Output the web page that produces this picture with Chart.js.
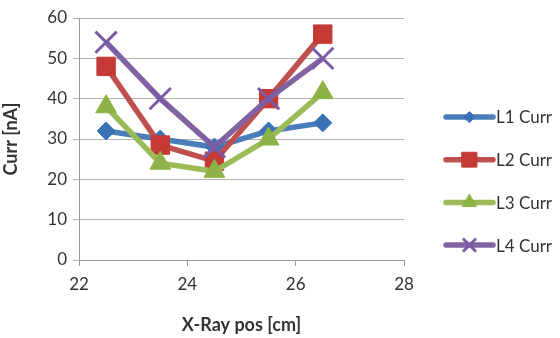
<!DOCTYPE html>
<html>
<head>
<meta charset="utf-8">
<script src="https://cdn.jsdelivr.net/npm/chart.js@4/dist/chart.umd.min.js"></script>
<style>
    body { margin: 0; background: #fff; }
    #wrap { width: 560px; height: 338px; position: relative; }
</style>
</head>
<body>
<div id="wrap"><canvas id="canvas"></canvas></div>
<script>
const xPos = [22.5, 23.5, 24.5, 25.5, 26.5];
const seriesNames = ['L1 Curr', 'L2 Curr', 'L3 Curr', 'L4 Curr'];
const l1Curr = [32, 30, 28, 32, 34];
const l2Curr = [48, 28.5, 24.5, 40, 56];
const l3Curr = [38, 24, 22, 30, 41.5];
const l4Curr = [54, 40, 28, 40, 50];
const xTicks = [22, 24, 26, 28];
const yTicks = [0, 10, 20, 30, 40, 50, 60];

const textColor = '#333333';
const fontFamily = 'Lato, "Open Sans", sans-serif';

const styles = [
    {line: '#4a7ebb', mark: '#3a72b6', point: 'rectRot', radius: 9, legendRadius: 5.5, border: 1},
    {line: '#c0504d', mark: '#c53a35', point: 'rect', radius: 13, legendRadius: 10.5, border: 1},
    {line: '#9bbb59', mark: '#8db246', point: 'triangle', radius: 12, legendRadius: 8, border: 1},
    {line: '#8064a2', mark: '#7b5ca4', point: 'crossRot', radius: 15, legendRadius: 8, border: 3}
];

const values = [l1Curr, l2Curr, l3Curr, l4Curr];

const datasets = values.map((vals, i) => ({
    label: seriesNames[i],
    data: vals.map((v, k) => ({x: xPos[k], y: v})),
    borderColor: styles[i].line,
    borderWidth: 5.5,
    backgroundColor: styles[i].mark,
    pointStyle: styles[i].point,
    pointRadius: styles[i].radius,
    pointHoverRadius: styles[i].radius,
    pointBackgroundColor: styles[i].mark,
    pointBorderColor: styles[i].mark,
    pointBorderWidth: styles[i].border,
    order: values.length - i,
    tension: 0
}));

// legend on the right: short line with marker, then the name
const sideLegend = {
    id: 'sideLegend',
    afterDraw(chart) {
        const ctx = chart.ctx;
        const area = chart.chartArea;
        const x0 = area.right + 42;
        const x1 = x0 + 47;
        ctx.save();
        chart.data.datasets.forEach((ds, i) => {
            const y = area.top + 99 + i * 42.7;
            ctx.strokeStyle = ds.borderColor;
            ctx.lineWidth = 5.5;
            ctx.lineCap = 'round';
            ctx.beginPath();
            ctx.moveTo(x0, y);
            ctx.lineTo(x1, y);
            ctx.stroke();
            ctx.fillStyle = ds.pointBackgroundColor;
            ctx.strokeStyle = ds.pointBorderColor;
            ctx.lineWidth = ds.pointBorderWidth;
            Chart.helpers.drawPoint(ctx, {
                pointStyle: ds.pointStyle,
                radius: styles[i].legendRadius,
                rotation: 0,
                borderWidth: ds.pointBorderWidth
            }, (x0 + x1) / 2, y);
            ctx.fillStyle = textColor;
            ctx.font = '17px ' + fontFamily;
            ctx.textAlign = 'left';
            ctx.textBaseline = 'middle';
            ctx.fillText(ds.label, x1 + 3, y + 1);
        });
        ctx.restore();
    }
};

new Chart(document.getElementById('canvas'), {
    type: 'line',
    data: {datasets: datasets},
    options: {
        responsive: true,
        maintainAspectRatio: false,
        animation: false,
        layout: {padding: {left: 0, right: 156, top: 18, bottom: 0}},
        plugins: {legend: {display: false}, tooltip: {enabled: false}},
        scales: {
            x: {
                type: 'linear',
                min: 22,
                max: 28,
                afterBuildTicks: (scale) => { scale.ticks = xTicks.map(v => ({value: v})); },
                afterFit: (scale) => { scale.height = 78; },
                grid: {drawOnChartArea: false, color: '#9a9a9a', tickLength: 6},
                border: {color: '#9a9a9a'},
                ticks: {color: textColor, font: {family: fontFamily, size: 17}, padding: 8, maxRotation: 0},
                title: {display: true, text: 'X-Ray pos [cm]', color: textColor,
                    font: {family: fontFamily, size: 18, weight: 'bold'}, padding: {top: 4, bottom: 2}}
            },
            y: {
                type: 'linear',
                min: 0,
                max: 60,
                afterBuildTicks: (scale) => { scale.ticks = yTicks.map(v => ({value: v})); },
                afterFit: (scale) => { scale.width = 79; },
                grid: {color: '#b4b4b4', tickLength: 6},
                border: {color: '#9a9a9a'},
                ticks: {color: textColor, font: {family: fontFamily, size: 17}, padding: 6},
                title: {display: true, text: 'Curr [nA]', color: textColor,
                    font: {family: fontFamily, size: 18, weight: 'bold'}, padding: {top: 0, bottom: 3}}
            }
        }
    },
    plugins: [sideLegend]
});
</script>
</body>
</html>
